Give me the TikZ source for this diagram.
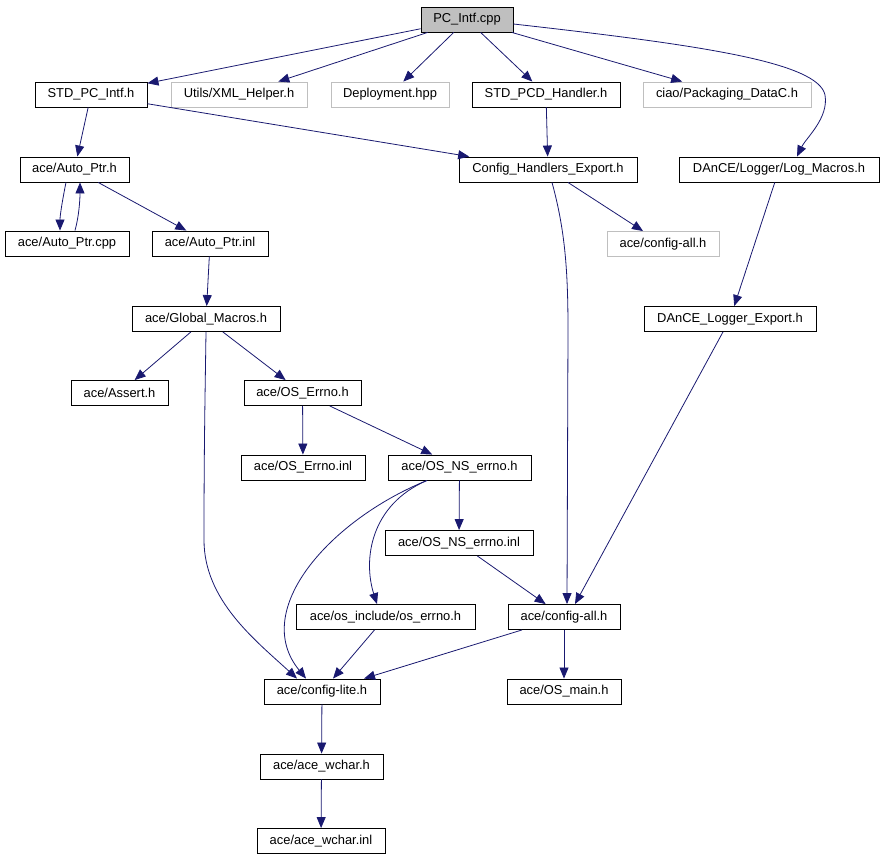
\documentclass[tikz,border=0pt]{standalone}
\usepackage{fontspec}
\setmainfont{Liberation Sans}
\usetikzlibrary{arrows.meta}

\definecolor{edgeblue}{RGB}{25,25,112}
\definecolor{lightgrey}{RGB}{191,191,191}

\begin{document}
\begin{tikzpicture}[x=1pt, y=-1pt,
    file/.style={draw=black, line width=0.9pt, minimum height=25pt, inner sep=0pt, font=\fontsize{12.9}{14}\selectfont},
    extfile/.style={file, draw=lightgrey},
    dep/.style={draw=edgeblue, line width=0.8pt, -{Triangle[length=11pt,width=9pt]}}]
            \useasboundingbox (0,0) rectangle (884,859);

            % Draw files
            \node[file, fill=lightgrey, minimum width=92pt] (pc) at (467,19.5) {PC\_Intf.cpp};
            \node[file, minimum width=112pt] (stdpc) at (91,94.5) {STD\_PC\_Intf.h};
            \node[extfile, minimum width=136pt] (xml) at (239,94.5) {Utils/XML\_Helper.h};
            \node[extfile, minimum width=118pt] (deploy) at (390,94.5) {Deployment.hpp};
            \node[file, minimum width=148pt] (stdpcd) at (546,94.5) {STD\_PCD\_Handler.h};
            \node[extfile, minimum width=168pt] (ciao) at (727,94.5) {ciao/Packaging\_DataC.h};
            \node[file, minimum width=109pt] (autoh) at (74.5,169.5) {ace/Auto\_Ptr.h};
            \node[file, minimum width=178pt] (che) at (548,169.5) {Config\_Handlers\_Export.h};
            \node[file, minimum width=200pt] (logm) at (779,169.5) {DAnCE/Logger/Log\_Macros.h};
            \node[file, minimum width=124pt] (autocpp) at (67,243.5) {ace/Auto\_Ptr.cpp};
            \node[file, minimum width=116pt] (autoinl) at (210,243.5) {ace/Auto\_Ptr.inl};
            \node[extfile, minimum width=112pt] (cfggrey) at (663,244) {ace/config-all.h};
            \node[file, minimum width=148pt] (gmac) at (206,319) {ace/Global\_Macros.h};
            \node[file, minimum width=172pt] (dlexp) at (730,319) {DAnCE\_Logger\_Export.h};
            \node[file, minimum width=97pt] (assert) at (119.5,393) {ace/Assert.h};
            \node[file, minimum width=117pt] (oserrh) at (302.5,393) {ace/OS\_Errno.h};
            \node[file, minimum width=124pt] (oserrinl) at (303,467.5) {ace/OS\_Errno.inl};
            \node[file, minimum width=143pt] (osnsh) at (459.5,467.5) {ace/OS\_NS\_errno.h};
            \node[file, minimum width=148pt] (osnsinl) at (459,543) {ace/OS\_NS\_errno.inl};
            \node[file, minimum width=179pt] (oserrinc) at (385.5,617) {ace/os\_include/os\_errno.h};
            \node[file, minimum width=112pt] (cfgall) at (564,617) {ace/config-all.h};
            \node[file, minimum width=116pt] (cfglite) at (322,691.5) {ace/config-lite.h};
            \node[file, minimum width=114pt] (osmain) at (564,691.5) {ace/OS\_main.h};
            \node[file, minimum width=123pt] (wcharh) at (321.5,766.5) {ace/ace\_wchar.h};
            \node[file, minimum width=128pt] (wcharinl) at (321,841) {ace/ace\_wchar.inl};

            % Draw includes of PC_Intf.cpp
            \draw[dep] (pc) -- (stdpc);
            \draw[dep] (pc) -- (xml);
            \draw[dep] (pc) -- (deploy);
            \draw[dep] (pc) -- (stdpcd);
            \draw[dep] (pc) -- (ciao);
            \draw[dep] ([yshift=-4.5pt]pc.east) .. controls (700,45) and (818,62) .. (825,95)
                .. controls (829,118) and (806,138) .. ([xshift=18pt]logm.north);

            % Draw second level
            \draw[dep] (stdpc) -- (autoh);
            \draw[dep] (stdpc) -- (che);
            \draw[dep] (stdpcd) -- (che);
            \draw[dep] ([xshift=-8.5pt]autoh.south) .. controls (63,197) and (60,215) .. ([xshift=-7pt]autocpp.north);
            \draw[dep] ([xshift=8pt]autocpp.north) .. controls (79,216) and (80,200) .. ([xshift=5.5pt]autoh.south);
            \draw[dep] (autoh) -- (autoinl);
            \draw[dep] (che) -- (cfggrey);
            \draw[dep] ([xshift=4pt]che.south) .. controls (565,230) and (568,270) .. (568,330) -- ([xshift=3pt]cfgall.north);
            \draw[dep] (logm) -- (dlexp);

            % Draw the ace part
            \draw[dep] (autoinl) -- (gmac);
            \draw[dep] (gmac) -- (assert);
            \draw[dep] (gmac.south) .. controls (205,400) and (204,450) .. (204,540)
                .. controls (204,600) and (255,640) .. ([xshift=-25pt]cfglite.north);
            \draw[dep] (gmac) -- (oserrh);
            \draw[dep] (oserrh) -- (oserrinl);
            \draw[dep] (oserrh) -- (osnsh);
            \draw[dep] (osnsh) -- (osnsinl);
            \draw[dep] ([xshift=-32.5pt]osnsh.south) .. controls (330,520) and (250,610) .. ([xshift=-16pt]cfglite.north);
            \draw[dep] ([xshift=-32.5pt]osnsh.south) .. controls (370,505) and (363,560) .. ([xshift=-8.5pt]oserrinc.north);
            \draw[dep] (osnsinl) -- (cfgall);
            \draw[dep] (dlexp) -- ([xshift=11pt]cfgall.north);
            \draw[dep] (oserrinc) -- (cfglite);
            \draw[dep] (cfgall) -- (cfglite);
            \draw[dep] (cfgall) -- (osmain);
            \draw[dep] (cfglite) -- (wcharh);
            \draw[dep] (wcharh) -- (wcharinl);
        \end{tikzpicture}
\end{document}
